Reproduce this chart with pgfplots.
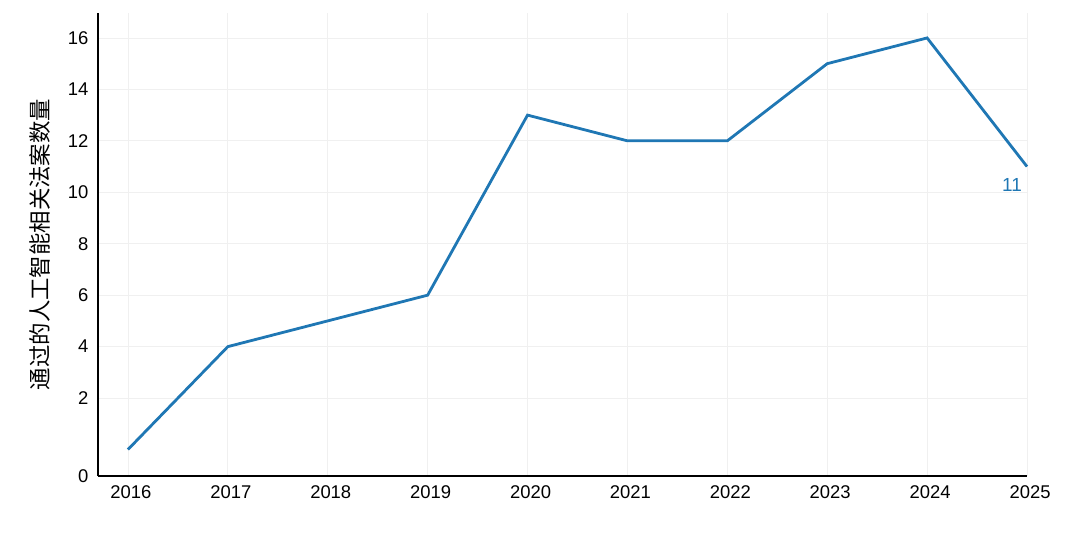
\documentclass[border=0pt]{standalone}
\usepackage{fontspec}
\setmainfont{Liberation Sans}
\newfontfamily\cjk{Noto Sans CJK SC}
\usepackage{pgfplots}
\pgfplotsset{compat=1.18}
\definecolor{lineblue}{HTML}{1F77B4}
\definecolor{gridgray}{HTML}{F0F0F0}

\begin{document}
\begin{tikzpicture}
\path[use as bounding box] (-98bp,-57bp) rectangle (982bp,476bp);
\begin{axis}[
    at={(0,0)}, anchor=south west,
    scale only axis, width=929bp, height=463bp,
    xmin=2015.7, xmax=2025,
    ymin=-1.03, ymax=16.97,
    axis x line*=bottom, axis y line*=left,
    axis line style={black, line width=1.6bp, -},
    xtick={2016,2017,2018,2019,2020,2021,2022,2023,2024,2025},
    xticklabels={2016,2017,2018,2019,2020,2021,2022,2023,2024,2025},
    ytick={-1.03,2,4,6,8,10,12,14,16},
    yticklabels={0,2,4,6,8,10,12,14,16},
    major tick length=0,
    grid=major,
    grid style={gridgray, line width=0.8bp},
    tick label style={font=\fontsize{18.5}{21}\selectfont},
    yticklabel style={xshift=-6bp},
    xticklabel style={yshift=-6bp, xshift=3bp},
    ylabel={\cjk 通过的人工智能相关法案数量},
    ylabel style={font=\fontsize{22.5}{26}\selectfont, at={(axis description cs:-0.0624,0.5)}, anchor=center},
    clip=false,
]

\addplot [color=lineblue, line width=2.8bp] coordinates {
    (2016, 0)
    (2017, 4)
    (2018, 5)
    (2019, 6)
    (2020, 13)
    (2021, 12)
    (2022, 12)
    (2023, 15)
    (2024, 16)
    (2025, 11)
};

\node[lineblue, anchor=north east, inner sep=0, font=\fontsize{19}{21}\selectfont, xshift=-5bp, yshift=-12bp] at (axis cs:2025,11) {11};

\end{axis}
\end{tikzpicture}
\end{document}
